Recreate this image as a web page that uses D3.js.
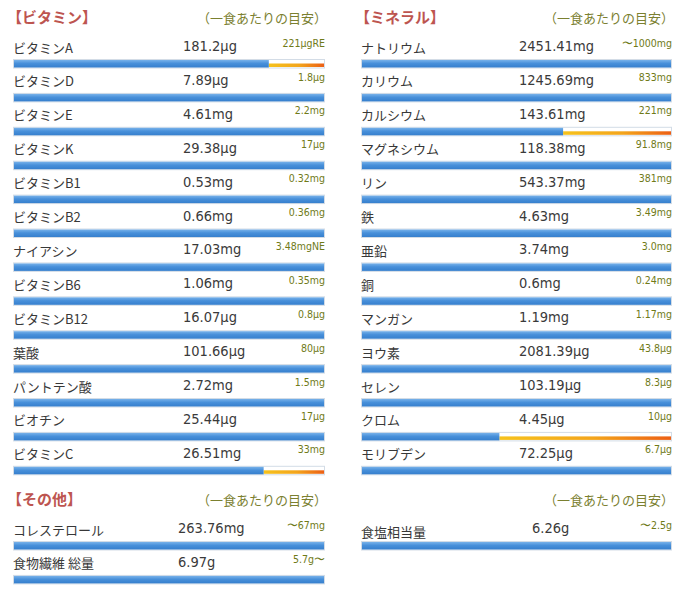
<!DOCTYPE html>
<html>
<head>
<meta charset="utf-8">
<script src="https://cdn.jsdelivr.net/npm/d3@7"></script>
<style>
  body { margin: 0; background: #fff; }
  svg { display: block; }
  .jp { font-family: "Noto Sans CJK JP", "Noto Sans", sans-serif; }
  .num { font-family: Tahoma, "DejaVu Sans Condensed", "DejaVu Sans", sans-serif; }
</style>
</head>
<body>
<div id="chart"></div>
<script>
// ビタミン
const vitaminNames = ["ビタミンA", "ビタミンD", "ビタミンE", "ビタミンK", "ビタミンB1", "ビタミンB2", "ナイアシン",
  "ビタミンB6", "ビタミンB12", "葉酸", "パントテン酸", "ビオチン", "ビタミンC"];
const vitaminAmounts = [181.2, 7.89, 4.61, 29.38, 0.53, 0.66, 17.03, 1.06, 16.07, 101.66, 2.72, 25.44, 26.51];
const vitaminUnits = ["μg", "μg", "mg", "μg", "mg", "mg", "mg", "mg", "μg", "μg", "mg", "μg", "mg"];
const vitaminTargets = [221, 1.8, 2.2, 17, 0.32, 0.36, 3.48, 0.35, 0.8, 80, 1.5, 17, 33];
const vitaminTargetLabels = ["221μgRE", "1.8μg", "2.2mg", "17μg", "0.32mg", "0.36mg", "3.48mgNE",
  "0.35mg", "0.8μg", "80μg", "1.5mg", "17μg", "33mg"];

// ミネラル
const mineralNames = ["ナトリウム", "カリウム", "カルシウム", "マグネシウム", "リン", "鉄", "亜鉛",
  "銅", "マンガン", "ヨウ素", "セレン", "クロム", "モリブデン"];
const mineralAmounts = [2451.41, 1245.69, 143.61, 118.38, 543.37, 4.63, 3.74, 0.6, 1.19, 2081.39, 103.19, 4.45, 72.25];
const mineralUnits = ["mg", "mg", "mg", "mg", "mg", "mg", "mg", "mg", "mg", "μg", "μg", "μg", "μg"];
const mineralTargets = [1000, 833, 221, 91.8, 381, 3.49, 3.0, 0.24, 1.17, 43.8, 8.3, 10, 6.7];
const mineralTargetLabels = ["〜1000mg", "833mg", "221mg", "91.8mg", "381mg", "3.49mg", "3.0mg",
  "0.24mg", "1.17mg", "43.8μg", "8.3μg", "10μg", "6.7μg"];

// その他
const otherNames = ["コレステロール", "食物繊維 総量"];
const otherAmounts = [263.76, 6.97];
const otherUnits = ["mg", "g"];
const otherTargets = [67, 5.7];
const otherTargetLabels = ["〜67mg", "5.7g〜"];

// 食塩
const saltNames = ["食塩相当量"];
const saltAmounts = [6.26];
const saltUnits = ["g"];
const saltTargets = [2.5];
const saltTargetLabels = ["〜2.5g"];

const width = 682, height = 592;
const rowStep = 33.9;

const svg = d3.select("#chart").append("svg")
    .attr("width", width)
    .attr("height", height);

// グラデーション
const defs = svg.append("defs");
const blue = defs.append("linearGradient")
    .attr("id", "blueGrad").attr("x1", 0).attr("y1", 0).attr("x2", 0).attr("y2", 1);
blue.append("stop").attr("offset", "0%").attr("stop-color", "#78b2ea");
blue.append("stop").attr("offset", "45%").attr("stop-color", "#4890da");
blue.append("stop").attr("offset", "100%").attr("stop-color", "#367fcd");

const warm = defs.append("linearGradient")
    .attr("id", "warmGrad").attr("x1", 0).attr("y1", 0).attr("x2", 1).attr("y2", 0);
warm.append("stop").attr("offset", "0%").attr("stop-color", "#f6c21c");
warm.append("stop").attr("offset", "55%").attr("stop-color", "#f3a51c");
warm.append("stop").attr("offset", "100%").attr("stop-color", "#ec5f14");

function buildRows(names, amounts, units, targets, targetLabels) {
  return names.map((n, i) => ({
    name: n,
    amount: amounts[i],
    unit: units[i],
    target: targets[i],
    targetLabel: targetLabels[i]
  }));
}

// セクション描画
function drawSection(opt) {
  const g = svg.append("g");
  const x = d3.scaleLinear().domain([0, 1]).range([opt.x0, opt.x1]).clamp(true);
  const y = d3.scaleLinear().domain([0, 1]).range([opt.top, opt.top + rowStep]);

  if (opt.title) {
    g.append("text")
        .attr("class", "jp")
        .attr("x", opt.x0 - 6)
        .attr("y", opt.top - 30)
        .attr("dy", "0.35em")
        .style("font-size", "15px")
        .style("font-weight", "bold")
        .style("fill", "#bd5550")
        .text(opt.title);
  }
  g.append("text")
      .attr("class", "jp")
      .attr("x", opt.x1 + 2)
      .attr("y", opt.top - 30)
      .attr("dy", "0.35em")
      .attr("text-anchor", "end")
      .style("font-size", "13px")
      .style("fill", "#7b8030")
      .text("（一食あたりの目安）");

  const row = g.selectAll("g.row")
    .data(opt.rows)
    .enter().append("g")
      .attr("class", "row")
      .attr("transform", (_, i) => `translate(0,${y(i)})`);

  row.append("text")
      .attr("class", "jp")
      .attr("x", opt.x0)
      .attr("y", opt.labelDy || 0)
      .attr("dy", "0.35em")
      .style("font-size", "13px")
      .style("fill", "#383838")
      .text(d => d.name);

  row.append("text")
      .attr("class", "num")
      .attr("x", opt.valueX)
      .attr("y", -2)
      .attr("dy", "0.35em")
      .style("font-size", "14.5px")
      .style("fill", "#3a3a3a")
      .text(d => d.amount + d.unit);

  row.append("text")
      .attr("class", "num")
      .attr("x", opt.x1)
      .attr("y", -5)
      .attr("dy", "0.35em")
      .attr("text-anchor", "end")
      .style("font-size", "10.5px")
      .style("fill", "#6f7a18")
      .text(d => d.targetLabel);

  // バー
  const barTop = 11.5, barH = 8.5;
  row.append("rect")
      .attr("x", x(0) + 0.5)
      .attr("y", barTop)
      .attr("width", x(1) - x(0) - 1)
      .attr("height", barH)
      .style("fill", "#fff")
      .style("stroke", "#d3dce6")
      .style("stroke-width", 1);

  row.filter(d => d.amount < d.target)
    .append("rect")
      .attr("x", d => x(d.amount / d.target))
      .attr("y", barTop + 4)
      .attr("width", d => x(1) - 1 - x(d.amount / d.target))
      .attr("height", 3.5)
      .style("fill", "url(#warmGrad)");

  row.append("rect")
      .attr("x", x(0) + 1)
      .attr("y", barTop + 0.5)
      .attr("width", d => x(d.amount / d.target) - x(0) - (d.amount >= d.target ? 2 : 1))
      .attr("height", barH - 1)
      .style("fill", "url(#blueGrad)");
}

drawSection({
  title: "【ビタミン】", x0: 13, x1: 325, valueX: 183, top: 48,
  rows: buildRows(vitaminNames, vitaminAmounts, vitaminUnits, vitaminTargets, vitaminTargetLabels)
});
drawSection({
  title: "【ミネラル】", x0: 361, x1: 672, valueX: 519, top: 48,
  rows: buildRows(mineralNames, mineralAmounts, mineralUnits, mineralTargets, mineralTargetLabels)
});
drawSection({
  title: "【その他】", x0: 13, x1: 325, valueX: 178, top: 530,
  rows: buildRows(otherNames, otherAmounts, otherUnits, otherTargets, otherTargetLabels)
});
drawSection({
  title: null, x0: 361, x1: 672, valueX: 532, top: 530, labelDy: 2,
  rows: buildRows(saltNames, saltAmounts, saltUnits, saltTargets, saltTargetLabels)
});
</script>
</body>
</html>
